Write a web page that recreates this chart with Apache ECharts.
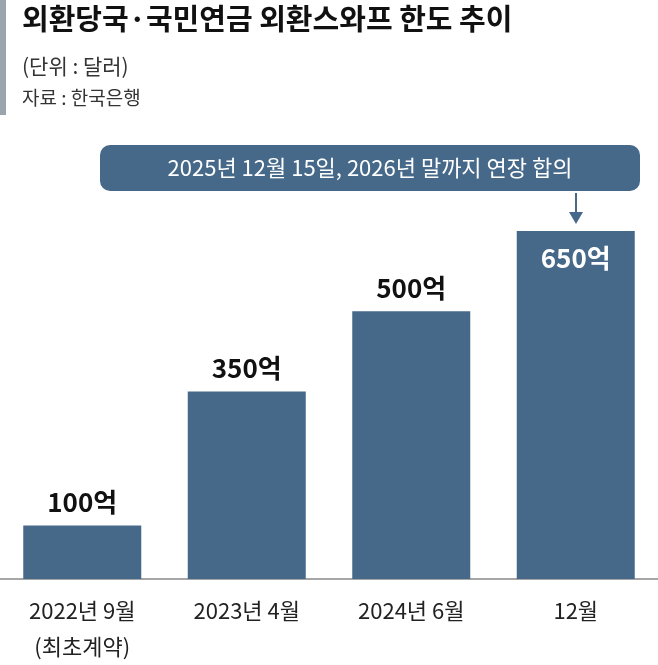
<!DOCTYPE html>
<html><head><meta charset="utf-8">
<script src="https://cdn.jsdelivr.net/npm/echarts@6/dist/echarts.min.js"></script>
<style>html,body{margin:0;padding:0;background:#fff}#c{width:658px;height:665px}</style>
</head><body><div id="c"></div>
<script>
const categories = ['2022년 9월\n(최초계약)', '2023년 4월', '2024년 6월', '12월'];
const values = [100, 350, 500, 650];
const labels = ['100억', '350억', '500억', '650억'];
const font = '"Noto Sans CJK KR", sans-serif';
const lblTop = {show: true, position: 'top', distance: 10, color: '#111', fontSize: 26, fontWeight: 'bold', fontFamily: font};
const chart = echarts.init(document.getElementById('c'));
chart.setOption({
  animation: false,
  grid: {left: 0, right: 0, top: 231, bottom: 85},
  xAxis: {type: 'category', data: categories,
    axisLine: {lineStyle: {color: '#888', width: 1.5}}, axisTick: {show: false},
    axisLabel: {color: '#222', fontSize: 22, fontFamily: font, margin: 14, lineHeight: 36, verticalAlign: 'top'}},
  yAxis: {type: 'value', min: 0, max: 650, show: false},
  series: [{type: 'bar', barWidth: 118,
    data: values.map((v, i) => i === values.length - 1
      ? {value: v, label: {position: 'insideTop', distance: 14, color: '#fff'}}
      : {value: v}),
    itemStyle: {color: '#46698a'},
    label: Object.assign({}, lblTop, {formatter: p => labels[p.dataIndex]})}],
  graphic: [
    {type: 'rect', left: 0, top: 0, shape: {width: 6, height: 115}, style: {fill: '#9aa4ad'}},
    {type: 'text', left: 22, top: 4, style: {text: '외환당국·국민연금 외환스와프 한도 추이', font: 'bold 29px ' + font, fill: '#111'}},
    {type: 'text', left: 22, top: 56, style: {text: '(단위 : 달러)', font: '21px ' + font, fill: '#333'}},
    {type: 'text', left: 22, top: 88, style: {text: '자료 : 한국은행', font: '19px ' + font, fill: '#333'}},
    {type: 'rect', shape: {x: 100, y: 145, width: 540, height: 46, r: 10}, style: {fill: '#46698a'}},
    {type: 'text', style: {x: 370, y: 168, text: '2025년 12월 15일, 2026년 말까지 연장 합의', font: '22px ' + font, fill: '#fff', align: 'center', verticalAlign: 'middle'}},
    {type: 'line', shape: {x1: 576, y1: 193, x2: 576, y2: 214}, style: {stroke: '#46698a', lineWidth: 2}},
    {type: 'polygon', shape: {points: [[569, 212], [583, 212], [576, 224]]}, style: {fill: '#46698a'}}
  ]
});
</script></body></html>
